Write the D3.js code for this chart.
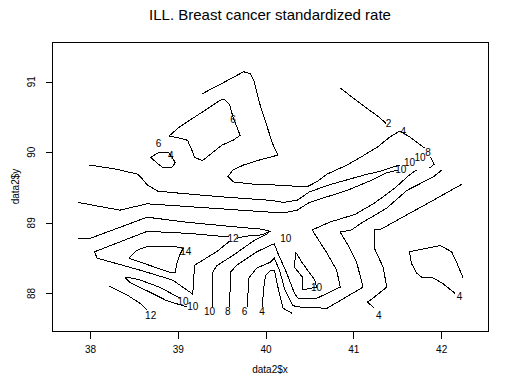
<!DOCTYPE html>
<html>
<head>
<meta charset="utf-8">
<script src="https://cdn.jsdelivr.net/npm/d3@7"></script>
<style>
body { margin: 0; background: #fff; }
text { font-family: "Liberation Sans", Arial, sans-serif; fill: #000; }
</style>
</head>
<body>
<svg width="518" height="389"></svg>
<script>
var WIDTH = 518;
var HEIGHT = 389;

// extent of the interpolated grid (R pads it by 4% on each side)
var xRange = [37.75, 42.35];
var yRange = [87.62, 91.41];
var xTicks = [38, 39, 40, 41, 42];
var yTicks = [88, 89, 90, 91];

// contour lines, [x, y] in data units
var c2 = [[40.85,90.91],[41.07,90.70],[41.30,90.49],[41.37,90.41]];
var c4a = [[39.28,90.83],[39.51,90.98],[39.75,91.14],[39.83,91.11],[39.87,91.00],[39.93,90.70],[40.01,90.39],[40.08,90.12],[40.14,89.96],[39.93,89.89],[39.75,89.82],[39.63,89.75],[39.57,89.66],[39.63,89.58],[39.85,89.55],[40.05,89.54],[40.47,89.51],[40.58,89.58],[40.70,89.69],[40.93,89.82],[41.07,89.92],[41.27,90.07],[41.42,90.22],[41.53,90.30],[41.64,90.22],[41.81,90.06]];
var c4loop = [[38.69,89.93],[38.79,90.00],[38.89,90.00],[38.94,89.92],[38.97,89.85],[38.93,89.78],[38.83,89.78],[38.76,89.85],[38.69,89.93]];
var c6loop = [[38.90,90.23],[39.02,90.36],[39.28,90.57],[39.50,90.75],[39.54,90.74],[39.59,90.67],[39.63,90.49],[39.71,90.24],[39.63,90.17],[39.50,90.10],[39.28,89.88],[39.19,89.93],[39.16,90.03],[39.11,90.17],[39.02,90.20],[38.90,90.23]];
var c6a = [[37.99,89.82],[38.30,89.76],[38.54,89.69],[38.59,89.63],[38.65,89.54],[38.77,89.45],[39.02,89.42],[39.48,89.37],[40.05,89.32],[40.20,89.29],[40.36,89.32],[40.50,89.44],[40.73,89.54],[40.93,89.61],[41.13,89.68],[41.30,89.73],[41.53,89.82]];
var c8a = [[37.86,89.29],[38.34,89.18],[38.65,89.27],[39.48,89.20],[39.71,89.18],[40.20,89.14],[40.36,89.18],[40.50,89.29],[40.93,89.46],[41.22,89.61],[41.38,89.71],[41.51,89.75]];
var c10a = [[37.86,88.78],[38.00,88.78],[38.65,89.08],[39.10,89.01],[39.59,88.95],[39.96,88.91],[40.05,88.88],[39.96,88.83],[39.76,88.81],[39.67,88.78]];
var c12loop = [[39.58,88.80],[39.14,88.85],[38.65,88.88],[38.05,88.59],[38.08,88.50],[38.57,88.33],[38.94,88.19],[39.17,87.99],[39.19,88.40],[39.44,88.59],[39.59,88.74]];
var c14 = [[38.44,88.50],[38.53,88.61],[38.66,88.67],[38.94,88.67],[39.06,88.64],[39.02,88.54],[38.99,88.43],[38.97,88.30],[38.93,88.29],[38.44,88.50]];
var c10b = [[39.03,87.93],[38.79,88.09],[38.57,88.19],[38.43,88.23],[38.40,88.22],[38.45,88.16],[38.71,88.00],[38.87,87.90],[39.10,87.81]];
var c12b = [[38.22,88.10],[38.42,87.98],[38.57,87.86],[38.65,87.76]];
var c10c = [[39.39,87.81],[39.40,88.30],[39.44,88.39],[39.63,88.54],[39.88,88.76],[40.03,88.85]];
var c8b = [[39.59,87.81],[39.60,88.30],[39.67,88.40],[39.90,88.59],[40.05,88.68],[40.10,88.70],[40.14,88.57],[40.24,88.29],[40.33,88.00],[40.37,87.93],[40.58,87.93],[40.85,88.09],[40.81,88.33],[40.70,88.57],[40.53,88.90],[40.73,89.01],[41.02,89.12],[41.24,89.28],[41.47,89.49],[41.64,89.68],[41.72,89.75]];
var c6b = [[39.79,87.81],[39.81,88.22],[39.90,88.36],[40.05,88.44],[40.10,88.50],[40.16,88.32],[40.22,88.05],[40.31,87.83],[40.36,87.81],[40.70,87.79],[41.11,88.09],[41.04,88.43],[40.94,88.68],[40.85,88.87],[40.98,88.90],[41.07,88.98],[41.38,89.21],[41.61,89.46],[41.91,89.65],[42.01,89.75]];
var c4b = [[39.96,87.81],[39.98,88.09],[40.00,88.26],[40.05,88.32],[40.10,88.33],[40.14,88.09],[40.20,87.79],[40.30,87.72]];
var c10loop = [[40.34,88.59],[40.33,88.37],[40.42,88.23],[40.42,88.05],[40.54,88.08],[40.58,88.09],[40.56,88.19],[40.42,88.43],[40.34,88.59]];
var c4c = [[41.24,87.79],[41.16,87.88],[41.19,87.90],[41.38,88.09],[41.34,88.37],[41.24,88.64],[41.24,88.90],[41.30,88.90],[41.56,89.08],[41.91,89.32],[42.24,89.55]];
var c4d = [[42.25,88.22],[42.18,88.43],[42.12,88.59],[41.99,88.68],[41.64,88.59],[41.66,88.43],[41.72,88.29],[41.79,88.22],[41.89,88.23],[42.01,88.15],[42.16,88.00]];
var c8c = [[41.88,89.93],[41.92,89.83],[41.87,89.78]];

// contour labels: [level, x, y]
var labels = [
    [2, 41.40, 90.41], [4, 41.57, 90.30], [6, 39.63, 90.46], [6, 38.78, 90.13],
    [4, 38.92, 89.96], [8, 41.85, 90.00], [10, 41.76, 89.93], [10, 41.64, 89.85],
    [10, 41.54, 89.75], [14, 39.09, 88.60], [12, 39.63, 88.78], [10, 40.23, 88.78],
    [10, 39.06, 87.89], [10, 39.17, 87.81], [12, 38.69, 87.69], [10, 39.36, 87.75],
    [8, 39.57, 87.75], [6, 39.76, 87.75], [4, 39.96, 87.75], [10, 40.58, 88.09],
    [4, 41.29, 87.69], [4, 42.21, 87.96]
];

var contours = [c2, c4a, c4loop, c6loop, c6a, c8a, c10a, c12loop, c14, c10b, c12b,
    c10c, c8b, c6b, c4b, c10loop, c4c, c4d, c8c];

function pad(r) {
    var d = (r[1] - r[0]) * 0.04;
    return [r[0] - d, r[1] + d];
}

var plotLeft = 52, plotRight = 488, plotTop = 42, plotBottom = 331;

var x = d3.scaleLinear().domain(pad(xRange)).range([plotLeft, plotRight]);
var y = d3.scaleLinear().domain(pad(yRange)).range([plotBottom, plotTop]);

var svg = d3.select('svg')
    .attr('width', WIDTH)
    .attr('height', HEIGHT);

svg.append('rect')
    .attr('width', WIDTH)
    .attr('height', HEIGHT)
    .attr('fill', '#fff');

var line = d3.line()
    .x(function(d) { return x(d[0]); })
    .y(function(d) { return y(d[1]); });

svg.append('g').selectAll('path')
    .data(contours)
    .enter()
    .append('path')
    .attr('d', line)
    .attr('fill', 'none')
    .attr('stroke', '#000')
    .attr('stroke-width', 1)
    .attr('shape-rendering', 'crispEdges');

svg.append('g').selectAll('text')
    .data(labels)
    .enter()
    .append('text')
    .attr('x', function(d) { return x(d[1]); })
    .attr('y', function(d) { return y(d[2]); })
    .attr('dy', '0.35em')
    .attr('text-anchor', 'middle')
    .style('font-size', '10px')
    .text(function(d) { return d[0]; });

// box
svg.append('rect')
    .attr('x', plotLeft + 0.5)
    .attr('y', plotTop + 0.5)
    .attr('width', plotRight - plotLeft)
    .attr('height', plotBottom - plotTop)
    .attr('fill', 'none')
    .attr('stroke', '#000')
    .attr('shape-rendering', 'crispEdges');

// x axis
var xAxis = svg.append('g')
    .attr('transform', 'translate(0,' + (plotBottom + 0.5) + ')')
    .call(d3.axisBottom(x).tickValues(xTicks).tickFormat(d3.format('d'))
        .tickSize(7).tickPadding(7).tickSizeOuter(0));
xAxis.select('.domain').remove();
xAxis.selectAll('line').attr('shape-rendering', 'crispEdges');
xAxis.selectAll('text')
    .style('font-size', '10px')
    .style('font-family', '"Liberation Sans", Arial, sans-serif');

// y axis, labels parallel to the axis as R draws them
var yAxis = svg.append('g')
    .attr('transform', 'translate(' + (plotLeft + 0.5) + ',0)')
    .call(d3.axisLeft(y).tickValues(yTicks).tickSize(7).tickFormat('').tickSizeOuter(0));
yAxis.select('.domain').remove();
yAxis.selectAll('line').attr('shape-rendering', 'crispEdges');

svg.append('g').selectAll('text')
    .data(yTicks)
    .enter()
    .append('text')
    .attr('transform', function(d) { return 'translate(35,' + y(d) + ') rotate(-90)'; })
    .attr('text-anchor', 'middle')
    .style('font-size', '10px')
    .text(function(d) { return d; });

// titles
svg.append('text')
    .attr('x', (plotLeft + plotRight) / 2)
    .attr('y', 20)
    .attr('text-anchor', 'middle')
    .style('font-size', '15px')
    .text('ILL. Breast cancer standardized rate');

svg.append('text')
    .attr('x', (plotLeft + plotRight) / 2)
    .attr('y', 373)
    .attr('text-anchor', 'middle')
    .style('font-size', '10px')
    .text('data2$x');

svg.append('text')
    .attr('transform', 'translate(19,' + (plotTop + plotBottom) / 2 + ') rotate(-90)')
    .attr('text-anchor', 'middle')
    .style('font-size', '10px')
    .text('data2$y');
</script>
</body>
</html>
